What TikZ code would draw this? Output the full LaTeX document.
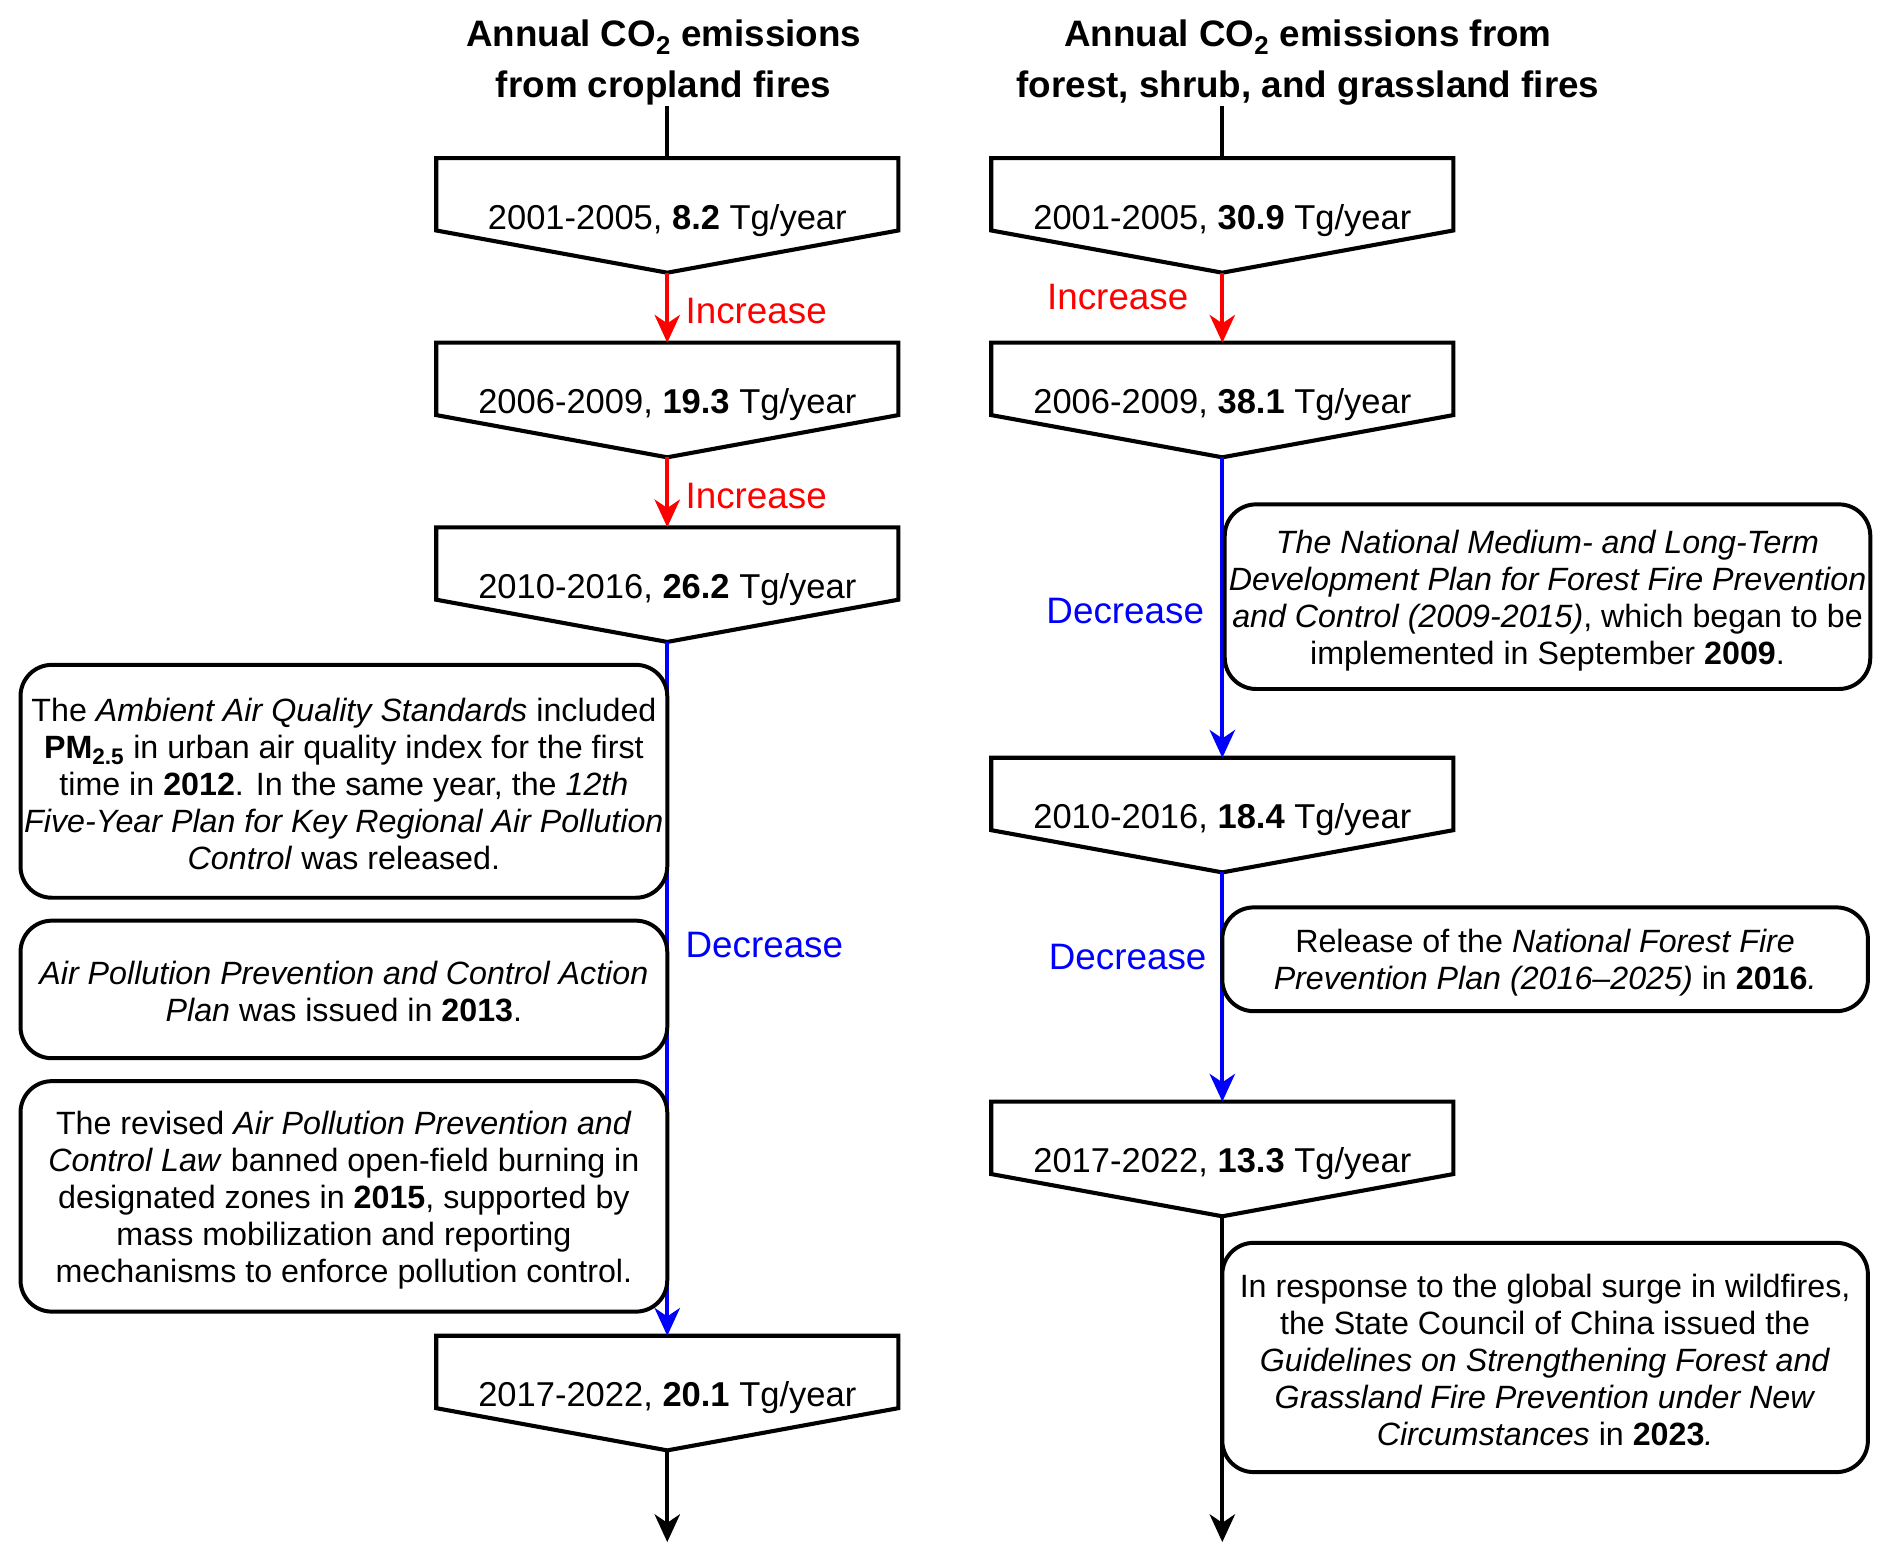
\documentclass[tikz,border=0pt]{standalone}
\usepackage{fontspec}
\setmainfont{Liberation Sans}
\usetikzlibrary{arrows.meta}
\definecolor{incred}{RGB}{255,0,0}
\definecolor{decblue}{RGB}{0,0,255}
\tikzset{
  boxline/.style={draw=black, line width=3.4pt, line join=miter, fill=white},
  boxtext/.style={inner sep=0pt, font=\fontsize{28.6}{33}\selectfont},
  notebox/.style={draw=black, line width=3.3pt, rounded corners=26pt, fill=white, inner sep=0pt, minimum width=#1},
  notetext/.style={inner sep=0pt, align=center, font=\fontsize{26.7}{30.7}\selectfont},
  titletext/.style={inner sep=0pt, align=center, font=\fontsize{30.5}{42}\selectfont\bfseries},
  flowlabel/.style={inner sep=0pt, font=\fontsize{30.5}{35}\selectfont},
  conn/.style={line width=3.2pt},
  tip/.style={-{Stealth[length=23pt, width=21pt, inset=7pt]}},
}
\newcommand\fluxbox[4]{%
  \coordinate (#1top) at (#2,#3);
  \coordinate (#1tip) at (#2,#3+95);
  \draw[boxline] (#2-191.5,#3) -- (#2+191.5,#3) -- (#2+191.5,#3+60) -- (#1tip) -- (#2-191.5,#3+60) -- cycle;
  \node[boxtext] (#1) at (#2,#3+51.5) {#4};
}
\begin{document}
\begin{tikzpicture}[x=1pt, y=-1pt]
\useasboundingbox (0,0) rectangle (1568,1295);
\fill[white] (0,0) rectangle (1568,1295);

% titles
\node[titletext] (titleL) at (550,52) {Annual CO\textsubscript{2} emissions\\from cropland fires};
\node[titletext] (titleR) at (1084,52) {Annual CO\textsubscript{2} emissions from\\forest, shrub, and grassland fires};
\coordinate (tL) at (553,88);
\coordinate (tR) at (1013,88);

% left column
\fluxbox{L1}{553}{131}{2001-2005, \textbf{8.2} Tg/year}
\fluxbox{L2}{553}{284}{2006-2009, \textbf{19.3} Tg/year}
\fluxbox{L3}{553}{437}{2010-2016, \textbf{26.2} Tg/year}
\fluxbox{L4}{553}{1107}{2017-2022, \textbf{20.1} Tg/year}
\coordinate (Lend) at (553,1278);

% right column
\fluxbox{R1}{1013}{131}{2001-2005, \textbf{30.9} Tg/year}
\fluxbox{R2}{1013}{284}{2006-2009, \textbf{38.1} Tg/year}
\fluxbox{R3}{1013}{628}{2010-2016, \textbf{18.4} Tg/year}
\fluxbox{R4}{1013}{913}{2017-2022, \textbf{13.3} Tg/year}
\coordinate (Rend) at (1013,1278);

% connectors
\draw[conn] (tL) -- (L1top);
\draw[conn] (tR) -- (R1top);
\draw[conn, incred, tip] (L1tip) -- (L2top);
\draw[conn, incred, tip] (L2tip) -- (L3top);
\draw[conn, decblue, tip] (L3tip) -- (L4top);
\draw[conn, black, tip] (L4tip) -- (Lend);
\draw[conn, incred, tip] (R1tip) -- (R2top);
\draw[conn, decblue, tip] (R2tip) -- (R3top);
\draw[conn, decblue, tip] (R3tip) -- (R4top);
\draw[conn, black, tip] (R4tip) -- (Rend);

% flow labels
\node[flowlabel, incred, anchor=west] (incL1) at (568,258) {Increase};
\node[flowlabel, incred, anchor=west] (incL2) at (568,411) {Increase};
\node[flowlabel, decblue, anchor=west] (decL) at (568,783) {Decrease};
\node[flowlabel, incred, anchor=east] (incR1) at (985,246) {Increase};
\node[flowlabel, decblue, anchor=east] (decR1) at (998,506) {Decrease};
\node[flowlabel, decblue, anchor=east] (decR2) at (1000,793) {Decrease};

% note boxes left
\node[notebox=536pt, minimum height=193pt] (nA) at (285,647.5) {};
\node[notetext] (nAt) at (285,650) {The \textit{Ambient Air Quality Standards} included\\
\textbf{PM\textsubscript{2.5}} in urban air quality index for the first\\
time in \textbf{2012}. In the same year, the \textit{12th}\\
\textit{Five-Year Plan for Key Regional Air Pollution}\\
\textit{Control} was released.};

\node[notebox=536pt, minimum height=114pt] (nB) at (285,820) {};
\node[notetext] (nBt) at (285,821.5) {\textit{Air Pollution Prevention and Control Action}\\
\textit{Plan} was issued in \textbf{2013}.};

\node[notebox=536pt, minimum height=191pt] (nC) at (285,991.5) {};
\node[notetext] (nCt) at (285,994.5) {The revised \textit{Air Pollution Prevention and}\\
\textit{Control Law} banned open-field burning in\\
designated zones in \textbf{2015}, supported by\\
mass mobilization and reporting\\
mechanisms to enforce pollution control.};

% note boxes right
\node[notebox=535pt, minimum height=153pt] (nD) at (1282.5,494.5) {};
\node[notetext] (nDt) at (1282.5,497.5) {\textit{The National Medium- and Long-Term}\\
\textit{Development Plan for Forest Fire Prevention}\\
\textit{and Control (2009-2015)}, which began to be\\
implemented in September \textbf{2009}.};

\node[notebox=535pt, minimum height=86pt] (nE) at (1280.5,795) {};
\node[notetext] (nEt) at (1280.5,798) {Release of the \textit{National Forest Fire}\\
\textit{Prevention Plan (2016–2025)} in \textbf{2016}\textit{.}};

\node[notebox=535pt, minimum height=190pt] (nF) at (1280.5,1125) {};
\node[notetext] (nFt) at (1280.5,1127) {In response to the global surge in wildfires,\\
the State Council of China issued the\\
\textit{Guidelines on Strengthening Forest and}\\
\textit{Grassland Fire Prevention under New}\\
\textit{Circumstances} in \textbf{2023}\textit{.}};
\end{tikzpicture}
\end{document}
